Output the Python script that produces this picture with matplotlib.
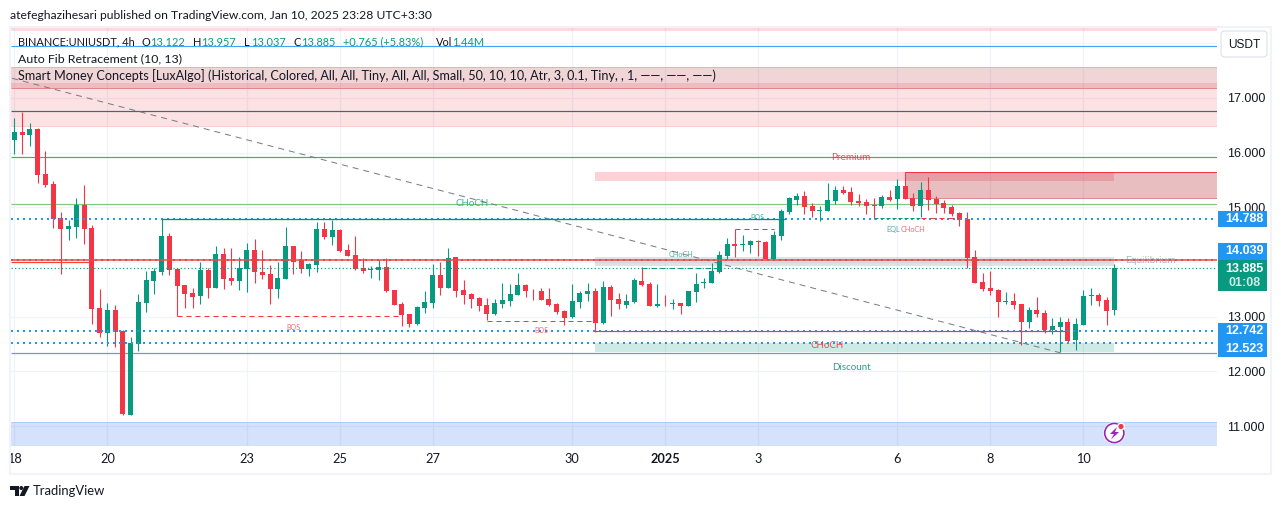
import matplotlib
matplotlib.use("Agg")
import matplotlib.pyplot as plt
from matplotlib.patches import Rectangle, Circle, Polygon, FancyBboxPatch
from matplotlib.transforms import Bbox

# 1. Candles, 4h UNIUSDT
opens = [16.23, 16.37, 16.32, 16.43, 15.61, 15.43, 14.80, 14.60, 14.64, 15.04,
         14.62, 13.16, 12.70, 13.12, 12.74, 11.20, 12.50, 13.25, 13.65, 13.82,
         14.48, 13.87, 13.58, 13.43, 13.38, 13.85, 13.52, 14.15, 13.71, 13.65,
         13.87, 14.22, 13.82, 13.78, 13.51, 13.69, 14.29, 14.04, 13.87, 13.94,
         14.60, 14.46, 14.58, 14.22, 14.13, 13.89, 13.85, 13.85, 13.91, 13.49,
         13.23, 13.05, 12.87, 13.16, 13.25, 13.76, 13.52, 14.09, 13.49, 13.41,
         13.34, 13.21, 13.05, 13.23, 13.29, 13.40, 13.58, 13.49, 13.47, 13.32,
         13.23, 13.10, 13.00, 13.27, 13.41, 13.47, 12.88, 13.54, 13.32, 13.21,
         13.27, 13.65, 13.60, 13.20, 13.22, 13.23, 13.25, 13.20, 13.45, 13.61,
         13.61, 13.82, 14.11, 14.33, 14.31, 14.31, 14.38, 14.37, 14.05, 14.48,
         14.91, 15.13, 15.21, 15.02, 14.93, 14.93, 15.11, 15.32, 15.28, 15.11,
         15.10, 15.04, 15.02, 15.19, 15.15, 15.39, 15.17, 15.02, 15.32, 15.15,
         15.08, 15.01, 14.90, 14.79, 14.09, 13.63, 13.52, 13.49, 13.27, 13.29,
         13.23, 12.90, 13.12, 13.07, 12.76, 12.81, 12.90, 12.57, 12.85, 13.37,
         13.40, 13.31, 13.122]
highs = [16.63, 16.75, 16.54, 16.46, 16.03, 15.48, 14.91, 14.77, 15.17, 15.41,
         14.68, 13.51, 13.25, 13.21, 12.76, 12.63, 13.42, 13.83, 13.89, 14.79,
         14.53, 13.87, 13.58, 13.52, 14.00, 13.89, 14.29, 14.26, 14.26, 14.09,
         14.35, 14.42, 14.22, 13.94, 14.00, 14.64, 14.29, 14.20, 13.98, 14.73,
         14.73, 14.77, 14.60, 14.33, 14.48, 14.07, 13.93, 14.04, 14.07, 13.49,
         13.27, 13.05, 13.20, 13.47, 13.96, 14.00, 14.26, 14.09, 13.67, 13.43,
         13.36, 13.34, 13.32, 13.62, 13.60, 13.80, 13.60, 13.51, 13.52, 13.52,
         13.25, 13.12, 13.60, 13.47, 13.62, 13.52, 13.65, 13.58, 13.43, 13.41,
         13.71, 13.91, 13.63, 13.60, 13.40, 13.32, 13.25, 13.47, 13.80, 13.71,
         13.98, 14.20, 14.44, 14.60, 14.49, 14.40, 14.40, 14.38, 14.57, 14.97,
         15.19, 15.26, 15.30, 15.08, 15.02, 15.44, 15.39, 15.39, 15.37, 15.24,
         15.15, 15.17, 15.23, 15.32, 15.52, 15.39, 15.26, 15.46, 15.55, 15.21,
         15.13, 15.04, 14.91, 14.91, 14.22, 13.80, 13.83, 13.51, 13.45, 13.43,
         13.23, 13.18, 13.36, 13.12, 12.98, 12.99, 12.98, 12.98, 13.49, 13.52,
         13.43, 13.36, 13.957]
lows = [15.98, 15.98, 16.12, 15.44, 15.37, 14.62, 13.78, 14.40, 14.44, 14.33,
        12.87, 12.63, 12.46, 12.44, 11.21, 11.20, 12.37, 13.09, 13.41, 13.76,
        13.76, 13.01, 13.16, 13.16, 13.23, 13.34, 13.52, 13.51, 13.58, 13.49,
        13.45, 13.62, 13.69, 13.23, 13.34, 13.69, 13.78, 13.80, 13.74, 13.82,
        14.42, 14.31, 14.18, 14.11, 13.85, 13.80, 13.71, 13.67, 13.45, 13.21,
        12.83, 12.81, 12.85, 13.07, 13.16, 13.40, 13.52, 13.36, 13.23, 13.16,
        13.10, 12.94, 13.03, 13.16, 13.20, 13.40, 13.36, 13.31, 13.31, 13.20,
        13.05, 12.85, 12.98, 13.16, 13.29, 12.72, 12.87, 13.01, 13.14, 13.16,
        13.25, 13.56, 13.20, 13.18, 13.20, 13.14, 13.05, 13.20, 13.27, 13.52,
        13.61, 13.80, 14.05, 14.09, 14.20, 14.16, 14.11, 14.05, 14.05, 14.40,
        14.88, 15.04, 14.88, 14.82, 14.75, 14.93, 15.06, 15.24, 15.04, 15.02,
        14.88, 14.79, 14.99, 15.11, 14.97, 15.15, 14.93, 14.82, 14.95, 14.90,
        14.90, 14.84, 14.66, 13.89, 13.62, 13.47, 13.40, 12.99, 13.23, 13.14,
        12.48, 12.79, 12.99, 12.70, 12.68, 12.35, 12.54, 12.39, 12.85, 13.21,
        13.20, 12.85, 13.037]
closes = [16.37, 16.33, 16.43, 15.59, 15.41, 14.79, 14.60, 14.66, 15.04, 14.60,
          13.14, 12.70, 13.12, 12.72, 11.22, 12.52, 13.27, 13.67, 13.83, 14.48,
          13.85, 13.56, 13.41, 13.36, 13.85, 13.52, 14.15, 13.69, 13.65, 13.89,
          14.22, 13.82, 13.76, 13.51, 13.71, 14.29, 14.00, 13.87, 13.96, 14.60,
          14.46, 14.58, 14.20, 14.11, 13.87, 13.83, 13.87, 13.91, 13.47, 13.21,
          13.03, 12.87, 13.18, 13.27, 13.76, 13.52, 14.07, 13.47, 13.40, 13.32,
          13.20, 13.05, 13.25, 13.31, 13.41, 13.58, 13.47, 13.48, 13.31, 13.21,
          13.09, 12.98, 13.29, 13.43, 13.47, 12.88, 13.54, 13.31, 13.23, 13.29,
          13.67, 13.58, 13.20, 13.23, 13.21, 13.25, 13.20, 13.47, 13.60, 13.63,
          13.83, 14.13, 14.33, 14.29, 14.33, 14.38, 14.37, 14.05, 14.49, 14.93,
          15.17, 15.21, 15.01, 14.93, 14.95, 15.13, 15.32, 15.26, 15.10, 15.08,
          15.02, 15.02, 15.19, 15.13, 15.39, 15.15, 15.02, 15.32, 15.13, 15.06,
          14.99, 14.88, 14.77, 14.07, 13.62, 13.51, 13.47, 13.27, 13.29, 13.21,
          12.90, 13.12, 13.05, 12.76, 12.83, 12.90, 12.56, 12.87, 13.38, 13.40,
          13.29, 13.10, 13.885]

# 2. Axis labels and price levels
time_ticks = [0, 12, 30, 42, 54, 72, 84, 96, 114, 126, 138]
time_labels = ["18", "20", "23", "25", "27", "30", "2025", "3", "6", "8", "10"]
price_ticks = [11, 12, 13, 14, 15, 16, 17, 18]
# 14.000 sits under the price boxes and 18.000 under the USDT button
price_labels = ["11.000", "12.000", "13.000", "", "15.000", "16.000", "17.000", ""]

dotted_levels = [14.788, 14.039, 12.742, 12.523]
fib_levels = [17.95, 16.76, 15.92, 15.06, 12.34]
fib_colors = ["#42a5f5", "#1e7d6e", "#4caf50", "#81c784", "#7e8fc0"]
fib_half = 14.03
last_price = 13.885

RED = "#f23645"
GREEN = "#089981"
BLUE = "#2196f3"
TEXT = "#131722"
GRID = "#f0f3fa"
PX = 0.72  # one pixel in points

plt.rcParams["font.family"] = ["Lato", "DejaVu Sans"]

fig = plt.figure(figsize=(12.81, 5.09), dpi=100, facecolor="white")

# 3. Main pane
ax = fig.add_axes([10.5 / 1281, (509 - 446) / 509, (1217 - 10.5) / 1281, (446 - 28) / 509])
ax.set_xlim(-0.516, 155.26)
ax.set_ylim(10.635, 18.28)
for side in ax.spines:
    ax.spines[side].set_visible(False)

ax.set_xticks(time_ticks)
ax.set_xticklabels(time_labels, color=TEXT)
ax.set_yticks(price_ticks)
ax.set_yticklabels(price_labels, color=TEXT, family="Liberation Sans")
ax.tick_params(axis="x", length=0, pad=5.2, labelsize=9.2)
ax.tick_params(axis="y", length=0, pad=7.2, labelsize=9, left=False, right=True,
               labelleft=False, labelright=True)
ax.grid(color=GRID, lw=PX * 1.2)
ax.set_axisbelow(True)

# "18" is cut by the pane edge, "2025" is bold
tick_texts = ax.get_xticklabels()
tick_texts[0].set_clip_on(True)
tick_texts[0].set_clip_box(Bbox([[11, 0], [60, 80]]))
tick_texts[6].set_fontweight("bold")

# 4. Zones
right_edge = 155.26
left_edge = -0.516
end_i = 142

def zone(x0, x1, top, bottom, color, alpha, z=1):
    ax.add_patch(Rectangle((x0, bottom), x1 - x0, top - bottom, facecolor=color,
                           alpha=alpha, edgecolor="none", zorder=z))

zone(left_edge, right_edge, 18.28, 18.23, RED, 0.18)
zone(left_edge, right_edge, 17.27, 16.49, RED, 0.15)
zone(left_edge, right_edge, 17.57, 17.18, "#b42832", 0.2)
zone(left_edge, right_edge, 11.07, 10.635, "#286eeb", 0.2)
zone(75, end_i, 15.65, 15.48, RED, 0.22)
zone(115, right_edge, 15.65, 15.17, "#b42832", 0.3)
zone(75, end_i, 14.09, 13.93, "#787b86", 0.22)
zone(75, end_i, 12.52, 12.355, "#089981", 0.2)

# zone borders
ax.hlines(17.57, left_edge, right_edge, color="#e2b4b6", lw=PX, zorder=1.5)
ax.hlines(17.18, left_edge, right_edge, color="#e0888c", lw=PX, zorder=1.5)
ax.hlines(16.49, left_edge, right_edge, color="#f8cfd1", lw=PX, zorder=1.5)
ax.hlines(11.07, left_edge, right_edge, color="#afcbf8", lw=PX, zorder=1.5)
ax.hlines(15.65, 115, right_edge, color=RED, lw=PX, zorder=1.5)
ax.hlines(15.17, 115, right_edge, color="#e0888c", lw=PX, zorder=1.5)
ax.vlines(115, 15.17, 15.65, color=RED, lw=PX, zorder=1.5)

# 5. Fib lines and trend line
for level, col in zip(fib_levels, fib_colors):
    ax.hlines(level, left_edge, right_edge, color=col, lw=PX * 1.2, zorder=2)
ax.hlines(13.995, left_edge, 10, color="#f44336", lw=PX * 1.2, zorder=2)
ax.plot([-0.3, 135], [17.36, 12.34], color="#787b86", lw=PX, ls=(0, (6, 5)), zorder=2)

# 6. Candles
xs = list(range(len(opens)))
for i in xs:
    col = GREEN if closes[i] >= opens[i] else RED
    ax.vlines(i, lows[i], highs[i], color=col, lw=PX * 1.1, zorder=3)
    ax.bar(i, abs(closes[i] - opens[i]), bottom=min(opens[i], closes[i]), width=0.645,
           color=col, linewidth=0, zorder=3.1)

# 7. Levels above the candles
for level in dotted_levels:
    ax.hlines(level, left_edge, right_edge, color=BLUE, lw=PX * 2, ls=(0, (1, 2)), zorder=4)
ax.hlines(last_price, left_edge, right_edge, color=GREEN, lw=PX * 1.2, ls=(0, (1, 2)), zorder=4)
ax.hlines(fib_half, left_edge, right_edge, color="#f44336", lw=PX * 1.5, zorder=4.2)

# 8. Structure lines (start, end, price)
ax.hlines(14.78, 19, 99.5, color="#0b8a7a", lw=PX * 1.3, zorder=4)
ax.hlines(12.74, 75, 136, color=RED, lw=PX * 1.2, zorder=4)
ax.hlines(13.015, 21, 50, color=RED, lw=PX, ls=(0, (5, 4)), zorder=4)
ax.hlines(12.93, 61, 75, color=RED, lw=PX, ls=(0, (5, 4)), zorder=4)
ax.hlines(13.89, 81, 91, color=GREEN, lw=PX, ls=(0, (5, 4)), zorder=4)
ax.hlines(14.60, 93, 98, color=GREEN, lw=PX, ls=(0, (5, 4)), zorder=4)
ax.hlines(14.80, 111, 117, color=GREEN, lw=PX, ls=(0, (4, 2)), zorder=4)
ax.hlines(14.80, 117, 122, color=RED, lw=PX, ls=(0, (5, 4)), zorder=4)

# 9. Chart labels
def label(i, price, txt, col, size, alpha=0.75):
    ax.text(i, price, txt, color=col, fontsize=size, alpha=alpha, ha="center", va="center", zorder=5)

label(59.07, 15.07, "CHoCH", GREEN, 7)
label(35.96, 12.81, "BOS", RED, 5)
label(67.98, 12.74, "BOS", RED, 5)
label(86.05, 14.13, "CHoCH", GREEN, 5.2)
label(95.9, 14.82, "BOS", GREEN, 5)
label(113.5, 14.60, "EQL", GREEN, 5.2)
label(116, 14.60, "CHoCH", RED, 5.2)
label(104.9, 12.48, "CHoCH", RED, 7, 0.9)
label(108, 15.92, "Premium", RED, 7.2, 0.9)
label(108, 12.07, "Discount", GREEN, 7, 0.9)
label(146.7, 14.02, "Equilibrium", "#9598a1", 7.4, 0.7)

# 10. Page furniture drawn in pixels on a second transparent axes
top = fig.add_axes([0, 0, 1, 1], facecolor="none")
top.set_xlim(0, 1281)
top.set_ylim(509, 0)
top.axis("off")

top.add_patch(Rectangle((9.5, 27), 1261.5, 447, fill=False, edgecolor=GRID, lw=1.5))
top.text(10, 15, "atefeghazihesari published on TradingView.com, Jan 10, 2025 23:28 UTC+3:30",
         color=TEXT, fontsize=8.7, va="center")

# legend rows
legend_parts = [
    (18, "BINANCE:UNIUSDT, 4h", TEXT), (142, "O", TEXT), (150, "13.122", GREEN),
    (193, "H", TEXT), (201.5, "13.957", GREEN), (244, "L", TEXT), (251, "13.037", GREEN),
    (293, "C", TEXT), (301, "13.885", GREEN), (343, "+0.765 (+5.83%)", GREEN),
    (436, "Vol", TEXT), (452, "1.44M", GREEN),
]
for px, txt, col in legend_parts:
    top.text(px, 42, txt, color=col, fontsize=7.9, va="center")
top.text(18, 59, "Auto Fib Retracement (10, 13)", color=TEXT, fontsize=8.9, va="center")
top.text(18, 76, "Smart Money Concepts [LuxAlgo] (Historical, Colored, All, All, Tiny, All, All, "
         "Small, 50, 10, 10, Atr, 3, 0.1, Tiny, , 1, \u2014\u2014, \u2014\u2014, \u2014\u2014)",
         color=TEXT, fontsize=9.1, va="center")

# USDT button
top.add_patch(FancyBboxPatch((1223, 33), 42, 22, boxstyle="round,pad=2,rounding_size=4",
                             facecolor="white", edgecolor="#e0e3eb", lw=0.9))
top.text(1244, 44.5, "USDT", color=TEXT, fontsize=8.6, ha="center", va="center", family="Liberation Sans")

# price boxes on the axis
boxes = [(211, 227, BLUE, "14.788"), (243, 260, BLUE, "14.039"),
         (323, 340, BLUE, "12.742"), (340, 357, BLUE, "12.523")]
for y0, y1, col, txt in boxes:
    top.add_patch(Rectangle((1218, y0), 49, y1 - y0, facecolor=col, edgecolor="none"))
    top.text(1244.5, (y0 + y1) / 2, txt, color="white", fontsize=9, fontweight="bold",
             ha="center", va="center", family="Liberation Sans")
top.add_patch(Rectangle((1218, 260), 49, 31, facecolor=GREEN, edgecolor="none"))
top.text(1244.5, 268.5, "13.885", color="white", fontsize=9, fontweight="bold",
         ha="center", va="center", family="Liberation Sans")
top.text(1244.5, 282.5, "01:08", color="#cdeae5", fontsize=9, fontweight="bold",
         ha="center", va="center", family="Liberation Sans")

# bolt badge
top.add_patch(Circle((1114.3, 433), 11, facecolor="white", edgecolor="none"))
top.add_patch(Circle((1114.3, 433), 9.6, facecolor="white", edgecolor="#9c27b0", lw=1.2))
top.add_patch(Polygon([(1117, 427), (1110, 434), (1114, 434), (1111, 439.5), (1119, 432), (1115, 432)],
                      facecolor="#9c27b0", edgecolor="none"))
top.add_patch(Circle((1121, 426.5), 4, facecolor="white", edgecolor="none"))
top.add_patch(Circle((1121, 426.5), 2.6, facecolor=RED, edgecolor="none"))

# TradingView mark
top.add_patch(Polygon([(10, 486), (19, 486), (19, 496), (14.5, 496), (14.5, 490), (10, 490)],
                      facecolor=TEXT, edgecolor="none"))
top.add_patch(Circle((21.3, 488), 2, facecolor=TEXT, edgecolor="none"))
top.add_patch(Polygon([(24.5, 486), (29.5, 486), (24.5, 496), (19.5, 496)],
                      facecolor=TEXT, edgecolor="none"))
top.text(33, 491, "TradingView", color=TEXT, fontsize=9.4, va="center")

plt.savefig("out.png", dpi=100)
